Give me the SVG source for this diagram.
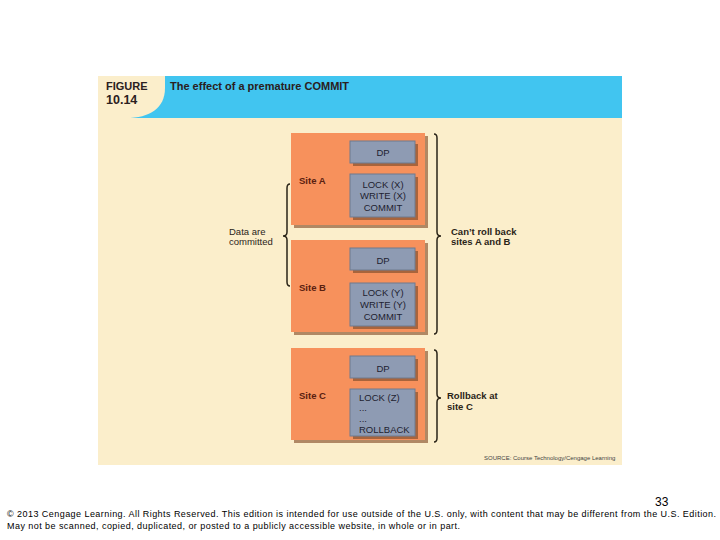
<svg xmlns="http://www.w3.org/2000/svg" width="720" height="540" viewBox="0 0 720 540">
<defs>
<style>
.t{font-family:"Liberation Sans",Arial,sans-serif;font-weight:bold;fill:#2a2020}
.site{font-family:"Liberation Sans",Arial,sans-serif;font-weight:bold;font-size:9.5px;fill:#5a2010}
.g{font-family:"Liberation Sans",Arial,sans-serif;font-size:9.5px;fill:#1e2230;text-anchor:middle}
.gl{font-family:"Liberation Sans",Arial,sans-serif;font-size:9.5px;fill:#1e2230}
.lbl{font-family:"Liberation Sans",Arial,sans-serif;font-weight:bold;font-size:9.5px;fill:#2a2418}
.lbn{font-family:"Liberation Sans",Arial,sans-serif;font-size:9.5px;fill:#2a2418}
.orange{fill:#F7915C}
.oshadow{fill:#B08864}
.gray{fill:#8E9BB3;stroke:#6F7A8E;stroke-width:1}
.gshadow{fill:#A8643C}
.br{fill:none;stroke:#2a2418;stroke-width:1.5}
.foot{font-family:"Liberation Sans",Arial,sans-serif;font-size:9px;fill:#000}
.pg{font-family:"Liberation Sans",Arial,sans-serif;font-size:12px;fill:#000}
</style>
</defs>
<rect width="720" height="540" fill="#ffffff"/>
<g id="figure-frame">
<rect x="98" y="76" width="524" height="389" fill="#FBEECB"/>
<rect x="98" y="76" width="524" height="42" fill="#41C5F0"/>
<path d="M98,76 H165 V88 C165,108 150,118 126,118 H98 Z" fill="#FBEECB"/>
<text class="t" x="106" y="90" font-size="11">FIGURE</text>
<text class="t" x="106" y="104" font-size="12.5">10.14</text>
<text class="t" x="170" y="90" font-size="11" fill="#1d2540">The effect of a premature COMMIT</text>
<text x="484" y="460" font-family="Liberation Sans,Arial,sans-serif" font-size="6" fill="#444">SOURCE: Course Technology/Cengage Learning</text>
</g>
<g id="siteA">
<rect class="oshadow" x="294" y="136" width="134" height="92"/>
<rect class="orange" x="291" y="133" width="134" height="92"/>
<text class="site" x="299" y="184">Site A</text>
<rect class="gshadow" x="353" y="144" width="65" height="22"/>
<rect class="gray" x="350" y="141" width="65" height="22"/>
<text class="g" x="383" y="156">DP</text>
<rect class="gshadow" x="353" y="177" width="65" height="43"/>
<rect class="gray" x="350" y="174" width="65" height="43"/>
<text class="g" x="383" y="188">LOCK (X)</text>
<text class="g" x="383" y="199">WRITE (X)</text>
<text class="g" x="383" y="211">COMMIT</text>
</g>
<g id="siteB">
<rect class="oshadow" x="294" y="243" width="134" height="92"/>
<rect class="orange" x="291" y="240" width="134" height="92"/>
<text class="site" x="299" y="291">Site B</text>
<rect class="gshadow" x="353" y="251" width="65" height="22"/>
<rect class="gray" x="350" y="248" width="65" height="22"/>
<text class="g" x="383" y="264">DP</text>
<rect class="gshadow" x="353" y="286" width="65" height="43"/>
<rect class="gray" x="350" y="283" width="65" height="43"/>
<text class="g" x="383" y="296">LOCK (Y)</text>
<text class="g" x="383" y="308">WRITE (Y)</text>
<text class="g" x="383" y="320">COMMIT</text>
</g>
<g id="siteC">
<rect class="oshadow" x="294" y="351" width="134" height="92"/>
<rect class="orange" x="291" y="348" width="134" height="92"/>
<text class="site" x="299" y="399">Site C</text>
<rect class="gshadow" x="353" y="359" width="65" height="22"/>
<rect class="gray" x="350" y="356" width="65" height="22"/>
<text class="g" x="383" y="372">DP</text>
<rect class="gshadow" x="353" y="392" width="65" height="47"/>
<rect class="gray" x="350" y="389" width="65" height="47"/>
<text class="gl" x="359" y="401">LOCK (Z)</text>
<text class="gl" x="359" y="411">...</text>
<text class="gl" x="359" y="422">...</text>
<text class="gl" x="359" y="433">ROLLBACK</text>
</g>
<g id="connectors">
<path class="br" d="M434,134 Q437,134 437,138 V232 Q437,236 441,236 Q437,236 437,240 V330 Q437,334 434,334"/>
<path class="br" d="M290,184 Q287,184 287,188 V232 Q287,236 283,236 Q287,236 287,240 V282 Q287,286 290,286"/>
<path class="br" d="M434,350 Q437,350 437,354 V394 Q437,398 441,398 Q437,398 437,402 V438 Q437,442 434,442"/>
</g>
<g id="labels">
<text class="lbn" x="229" y="235">Data are</text>
<text class="lbn" x="229" y="245">committed</text>
<text class="lbl" x="451" y="235">Can’t roll back</text>
<text class="lbl" x="451" y="245">sites A and B</text>
<text class="lbl" x="447" y="399">Rollback at</text>
<text class="lbl" x="447" y="410">site C</text>
</g>
<g id="footer">
<text class="pg" x="655" y="506">33</text>
<text class="foot" x="7" y="517" textLength="709" lengthAdjust="spacing">© 2013 Cengage Learning. All Rights Reserved. This edition is intended for use outside of the U.S. only, with content that may be different from the U.S. Edition.</text>
<text class="foot" x="7" y="529" textLength="453" lengthAdjust="spacing">May not be scanned, copied, duplicated, or posted to a publicly accessible website, in whole or in part.</text>
</g>
</svg>
